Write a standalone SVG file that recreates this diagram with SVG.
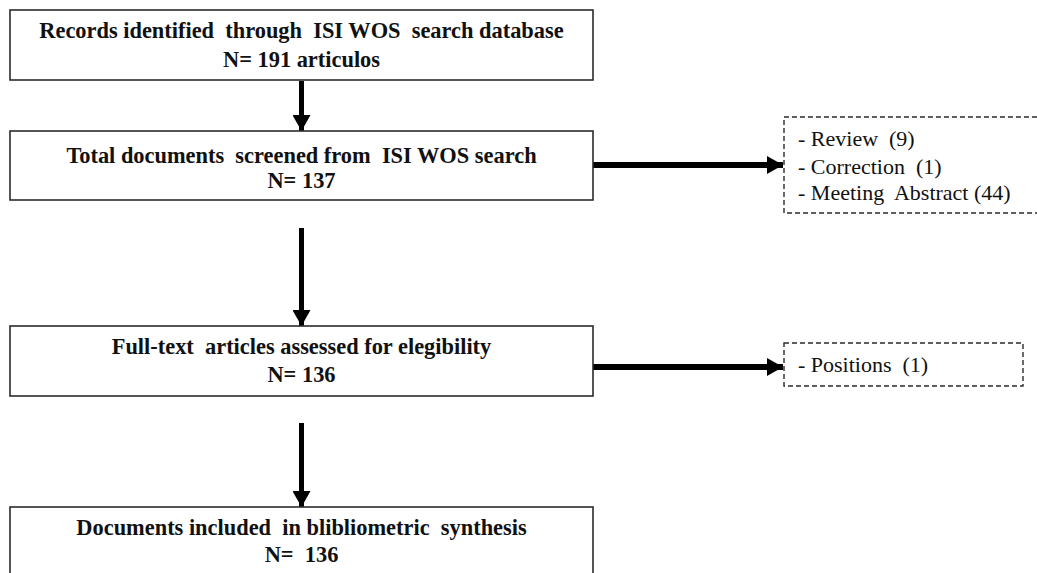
<svg xmlns="http://www.w3.org/2000/svg" width="1037" height="573" viewBox="0 0 1037 573">
<style>
  .box { fill: #ffffff; stroke: #2b2b2b; stroke-width: 1.6; }
  .dbox { fill: #ffffff; stroke: #2b2b2b; stroke-width: 1.4; stroke-dasharray: 5 3; }
  .t { font-family: "Liberation Serif", "Times New Roman", serif; font-size: 22.4px; font-weight: bold; fill: #111111; text-anchor: middle; white-space: pre; }
  .r { font-family: "Liberation Serif", "Times New Roman", serif; font-size: 22px; fill: #111111; white-space: pre; }
  .c { stroke: #000000; fill: none; }
  .v { stroke-width: 5; marker-end: url(#headV); }
  .h { stroke-width: 6; marker-end: url(#headH); }
</style>
<defs>
  <marker id="headV" markerUnits="userSpaceOnUse" viewBox="0 0 16 18" refX="16" refY="9" markerWidth="16" markerHeight="18" orient="auto">
    <path d="M0,0 L16,9 L0,18 Z" fill="#000000"/>
  </marker>
  <marker id="headH" markerUnits="userSpaceOnUse" viewBox="0 0 16 18" refX="16" refY="9" markerWidth="16" markerHeight="18" orient="auto">
    <path d="M0,0 L16,9 L0,18 Z" fill="#000000"/>
  </marker>
</defs>
<rect width="1037" height="573" fill="#ffffff"/>

<g id="connectors">
  <line class="c v" x1="301.5" y1="81" x2="301.5" y2="131"/>
  <line class="c v" x1="301.5" y1="228" x2="301.5" y2="326"/>
  <line class="c v" x1="301.5" y1="423" x2="301.5" y2="507"/>
  <line class="c h" x1="593" y1="165" x2="783" y2="165"/>
  <line class="c h" x1="593" y1="367" x2="783" y2="367"/>
</g>

<g id="records">
  <rect class="box" x="10" y="10" width="583" height="70"/>
  <text class="t" x="301.5" y="38">Records identified  through  ISI WOS  search database</text>
  <text class="t" x="301.5" y="67">N= 191 articulos</text>
</g>

<g id="screened">
  <rect class="box" x="10" y="131" width="583" height="69"/>
  <text class="t" x="301.5" y="163">Total documents  screened from  ISI WOS search</text>
  <text class="t" x="301.5" y="188">N= 137</text>
</g>

<g id="excluded1">
  <rect class="dbox" x="784" y="117" width="260" height="96"/>
  <text class="r" x="798" y="146">- Review  (9)</text>
  <text class="r" x="798" y="174">- Correction  (1)</text>
  <text class="r" x="798" y="200">- Meeting  Abstract (44)</text>
</g>

<g id="fulltext">
  <rect class="box" x="10" y="326" width="583" height="70"/>
  <text class="t" x="301.5" y="354">Full-text  articles assessed for elegibility</text>
  <text class="t" x="301.5" y="382">N= 136</text>
</g>

<g id="excluded2">
  <rect class="dbox" x="784" y="343" width="239" height="43"/>
  <text class="r" x="798" y="372">- Positions  (1)</text>
</g>

<g id="included">
  <rect class="box" x="10" y="507" width="583" height="80"/>
  <text class="t" x="301.5" y="535">Documents included  in blibliometric  synthesis</text>
  <text class="t" x="301.5" y="562">N=  136</text>
</g>
</svg>
